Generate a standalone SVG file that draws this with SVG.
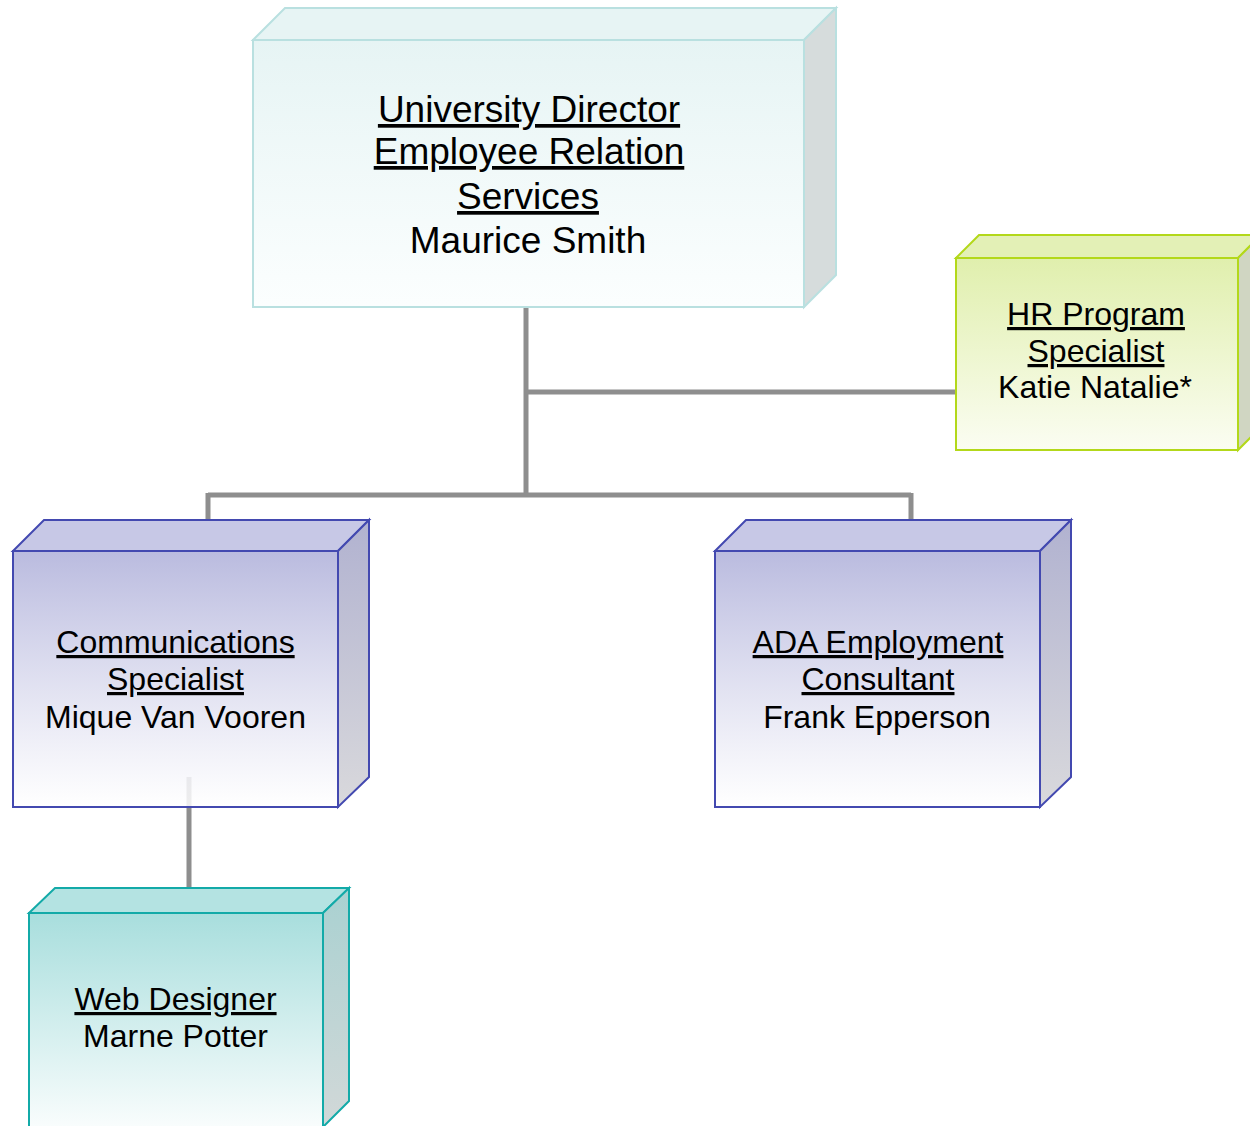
<svg xmlns="http://www.w3.org/2000/svg" width="1250" height="1126" viewBox="0 0 1250 1126">
<defs>
<linearGradient id="gTop" x1="0" y1="0" x2="0" y2="1"><stop offset="0" stop-color="#e6f4f4"/><stop offset="1" stop-color="#fbfefe" stop-opacity="0.92"/></linearGradient>
<linearGradient id="gHR" x1="0" y1="0" x2="0" y2="1"><stop offset="0" stop-color="#e0efad"/><stop offset="1" stop-color="#fbfdf2"/></linearGradient>
<linearGradient id="gBlue" x1="0" y1="0" x2="0" y2="1"><stop offset="0" stop-color="#babbdf"/><stop offset="1" stop-color="#ffffff" stop-opacity="0.85"/></linearGradient>
<linearGradient id="gBlueSide" x1="0" y1="0" x2="0" y2="1"><stop offset="0" stop-color="#b1b2d0"/><stop offset="1" stop-color="#d9d9dc"/></linearGradient>
<linearGradient id="gWeb" x1="0" y1="0" x2="0" y2="1"><stop offset="0" stop-color="#a8dedd"/><stop offset="1" stop-color="#ffffff"/></linearGradient>
<linearGradient id="gWebSide" x1="0" y1="0" x2="0" y2="1"><stop offset="0" stop-color="#a9d1d1"/><stop offset="1" stop-color="#d2d8d8"/></linearGradient>
</defs>
<style>
.t{font-family:"Liberation Sans",Arial,sans-serif;fill:#000;text-anchor:middle}
.u{text-decoration:underline}
.conn{stroke:#8e8e8e;stroke-width:5;fill:none}
</style>
<g id="connectors">
<path class="conn" d="M526,307 V495 M526,392 H956 M208,495 H911 M208,493 V520 M911,493 V520 M189,777 V888"/>
</g>
<g id="node-director">
<polygon points="253,40 285,8 836,8 804,40" fill="#e7f4f4" stroke="#b9e0e0" stroke-width="2"/>
<polygon points="804,40 836,8 836,275 804,307" fill="#d6dcdc" stroke="#b9e0e0" stroke-width="2"/>
<rect x="253" y="40" width="551" height="267" fill="url(#gTop)" stroke="#b9e0e0" stroke-width="2"/>
<text class="t" font-size="37"><tspan class="u" x="529" y="122">University Director</tspan><tspan class="u" x="529" y="164">Employee Relation</tspan><tspan class="u" x="528" y="209">Services</tspan><tspan x="528" y="253">Maurice Smith</tspan></text>
</g>
<g id="node-hr">
<polygon points="956,258 979,235 1261,235 1238,258" fill="#e3f0b6" stroke="#b3d81a" stroke-width="2"/>
<polygon points="1238,258 1261,235 1261,427 1238,450" fill="#d0d6c2" stroke="#b3d81a" stroke-width="2"/>
<rect x="956" y="258" width="282" height="192" fill="url(#gHR)" stroke="#b3d81a" stroke-width="2"/>
<text class="t" font-size="32"><tspan class="u" x="1096" y="325">HR Program</tspan><tspan class="u" x="1096" y="362">Specialist</tspan><tspan x="1095" y="398">Katie Natalie*</tspan></text>
</g>
<g id="node-comm">
<polygon points="13,551 44,520 369,520 338,551" fill="#c7c8e6" stroke="#4349b0" stroke-width="2"/>
<polygon points="338,551 369,520 369,777 338,807" fill="url(#gBlueSide)" stroke="#4349b0" stroke-width="2"/>
<rect x="13" y="551" width="325" height="256" fill="url(#gBlue)" stroke="#4349b0" stroke-width="2"/>
<text class="t" font-size="32"><tspan class="u" x="175.5" y="653">Communications</tspan><tspan class="u" x="175.5" y="690">Specialist</tspan><tspan x="175.5" y="728">Mique Van Vooren</tspan></text>
</g>
<g id="node-ada">
<polygon points="715,551 746,520 1071,520 1040,551" fill="#c7c8e6" stroke="#4349b0" stroke-width="2"/>
<polygon points="1040,551 1071,520 1071,777 1040,807" fill="url(#gBlueSide)" stroke="#4349b0" stroke-width="2"/>
<rect x="715" y="551" width="325" height="256" fill="url(#gBlue)" stroke="#4349b0" stroke-width="2"/>
<text class="t" font-size="32"><tspan class="u" x="878" y="653">ADA Employment</tspan><tspan class="u" x="878" y="690">Consultant</tspan><tspan x="877" y="728">Frank Epperson</tspan></text>
</g>
<g id="node-web">
<polygon points="29,913 55,888 349,888 323,913" fill="#b4e3e2" stroke="#13aaa8" stroke-width="2"/>
<polygon points="323,913 349,888 349,1101 323,1127" fill="url(#gWebSide)" stroke="#13aaa8" stroke-width="2"/>
<rect x="29" y="913" width="294" height="230" fill="url(#gWeb)" stroke="#13aaa8" stroke-width="2"/>
<text class="t" font-size="32"><tspan class="u" x="175.5" y="1010">Web Designer</tspan><tspan x="175.5" y="1047">Marne Potter</tspan></text>
</g>
</svg>
